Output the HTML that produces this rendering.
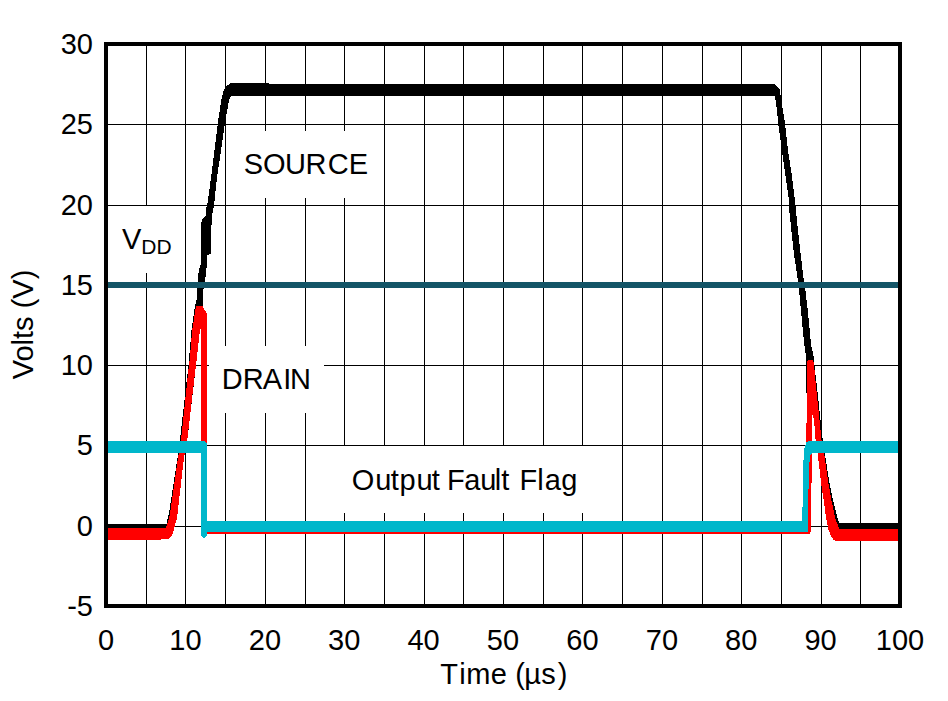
<!DOCTYPE html>
<html><head><meta charset="utf-8"><style>
html,body{margin:0;padding:0;background:#fff;width:948px;height:701px;overflow:hidden}
svg{position:absolute;left:0;top:0}
text{font-family:"Liberation Sans",sans-serif;font-size:29px;fill:#000}
</style></head><body>
<svg width="948" height="701" viewBox="0 0 948 701">
<g fill="#000" shape-rendering="crispEdges"><rect x="146" y="46" width="1" height="558"/><rect x="185" y="46" width="1" height="558"/><rect x="225" y="46" width="1" height="558"/><rect x="265" y="46" width="1" height="558"/><rect x="305" y="46" width="1" height="558"/><rect x="344" y="46" width="1" height="558"/><rect x="384" y="46" width="1" height="558"/><rect x="424" y="46" width="1" height="558"/><rect x="463" y="46" width="1" height="558"/><rect x="503" y="46" width="1" height="558"/><rect x="543" y="46" width="1" height="558"/><rect x="582" y="46" width="1" height="558"/><rect x="622" y="46" width="1" height="558"/><rect x="662" y="46" width="1" height="558"/><rect x="702" y="46" width="1" height="558"/><rect x="741" y="46" width="1" height="558"/><rect x="781" y="46" width="1" height="558"/><rect x="821" y="46" width="1" height="558"/><rect x="860" y="46" width="1" height="558"/><rect x="108" y="124" width="790" height="1"/><rect x="108" y="205" width="790" height="1"/><rect x="108" y="285" width="790" height="1"/><rect x="108" y="365" width="790" height="1"/><rect x="108" y="445" width="790" height="1"/><rect x="108" y="526" width="790" height="1"/></g>
<g fill="#fff" shape-rendering="crispEdges">
<rect x="230" y="131" width="152" height="67"/>
<rect x="108" y="206" width="76" height="67"/>
<rect x="209" y="346" width="115" height="67"/>
<rect x="338" y="446" width="253" height="67"/>
</g>
<polygon shape-rendering="crispEdges" fill="#000" points="108,524.3 166.6,524.3 167.2,520 169.1,512.8 171,500 177.2,460 180,440 182.2,420 188.5,365 191.5,330 195,306 196.6,300 197.1,295 198.1,275 199.5,268 200.7,265 201.1,255 201.3,222 203,218 206.3,216 206.4,207 207.3,205 210.7,180 217.7,124 221.2,100 223.5,91 226.3,86.4 230,83.4 300,83.6 774.2,83.6 779.4,88.4 782.8,110 785.1,124 787.9,150 791.8,175 794.6,198 795.4,205 797.9,230 800.8,255 803.7,280 805.4,290 807.7,310 809.7,330 811.1,345 813.4,355 814,362 817.3,390 820.5,420 822.8,440 825,455 829,480 832.9,500 837.9,520 839.5,523 898,523 898,529.5 839,529.5 835,528 832,520 824.6,480 817,420 809,395 805.8,392 805.8,355 804.3,345 802.8,330 800.9,310 799.1,290 797.9,280 794.1,255 791.3,230 788.7,205 788.6,198 785.4,175 781.8,150 778.3,124 777,110 775.5,100 775,95.8 300,95.8 230.9,95.6 229,100 224.8,124 216.7,180 214.1,205 213.8,207 212.2,215 211.8,222 211,230 210.5,245 210.5,254 207.1,255 206.7,265 206,275 204,285 202.8,295 203,300 203.5,306 200,330 196,365 187.3,440 183.7,460 179.1,500 176.5,520 174,527 172,530 108,530"/>
<polygon shape-rendering="crispEdges" fill="#f00" points="108,528 166,528 166.9,525 168.5,520 170.1,513 172,500 177.7,460 181,440 183.1,420 188.4,370 189.2,365 192.2,330 196,306 202.5,306 207,314 207,528 806.4,528 806.4,430 806.9,400 807,365 807,361 808,360.3 812.5,360.3 813.8,362 816.4,390 819.5,420 821.5,440 824.3,455 827.9,480 831.4,500 835.7,520 839.3,528.5 898,528.5 898,541 860,541 850,541.4 837.9,541.4 833.6,540 830.7,535.7 828.6,530 826.4,520 823.6,500 820.7,480 817.9,455 815.6,440 814.1,420 812,413.8 811.8,420 812.1,435 811.8,455 811.8,475 810.8,505 810.8,532 809.5,534 201.2,534 201.2,328 200,330 196,365 195.3,370 187.3,440 183.7,460 179.1,500 177.8,512 176.5,520 174.6,526 173.9,530 172.3,535 171,537 168.8,538.8 161,538.8 161,539.8 108,539.8"/>
<polygon shape-rendering="crispEdges" fill="#00b7cb" points="108,441 205,441 207,443.5 207,521 802,521 802.5,507 803,475 803.4,462 804.2,450 805,445.8 806.5,442.5 808.4,441 898,441 898,453 812,453 810.1,455 809.3,465 808.7,475 808.3,505 807.7,510 807.7,532 207,532 207,535 205.5,537.5 202.5,537.5 201.1,535.5 201.1,453 108,453"/>
<rect x="108" y="282" width="790" height="6" fill="#145567" shape-rendering="crispEdges"/>
<rect x="106" y="44" width="794" height="562" fill="none" stroke="#000" stroke-width="4" shape-rendering="crispEdges"/>
<g><text x="93" y="53.5" text-anchor="end">30</text><text x="93" y="133.5" text-anchor="end">25</text><text x="93" y="214.5" text-anchor="end">20</text><text x="93" y="294.5" text-anchor="end">15</text><text x="93" y="374.5" text-anchor="end">10</text><text x="93" y="454.5" text-anchor="end">5</text><text x="93" y="535.5" text-anchor="end">0</text><text x="93" y="615.5" text-anchor="end">-5</text><text x="106" y="650" text-anchor="middle">0</text><text x="185.4" y="650" text-anchor="middle">10</text><text x="265" y="650" text-anchor="middle">20</text><text x="344.2" y="650" text-anchor="middle">30</text><text x="423.6" y="650" text-anchor="middle">40</text><text x="503" y="650" text-anchor="middle">50</text><text x="582.4" y="650" text-anchor="middle">60</text><text x="662" y="650" text-anchor="middle">70</text><text x="741.2" y="650" text-anchor="middle">80</text><text x="820.6" y="650" text-anchor="middle">90</text><text x="900" y="650" text-anchor="middle">100</text>
<text x="440.35 459.36 466.17 490.87 507.00 515.30 524.32 541.29 557.83" y="683.6">Time (&#181;s)</text>
<text transform="translate(33.2,324.5) rotate(-90)" text-anchor="middle">Volts (V)</text>
<text x="243.78 263.03 285.06 305.52 327.73 348.72" y="173.6">SOURCE</text>
<text x="221.72 242.82 262.74 283.32 290.02" y="389.3">DRAIN</text>
<text x="351.83 375.32 390.66 399.43 416.52 431.86 439.92 447.02 464.27 480.32 494.75 501.36 509.42 519.62 537.15 544.87 561.28" y="489.6">Output Fault Flag</text>
<text x="122" y="249">V<tspan font-size="21" dy="5">DD</tspan></text>
</g>
</svg>
</body></html>
